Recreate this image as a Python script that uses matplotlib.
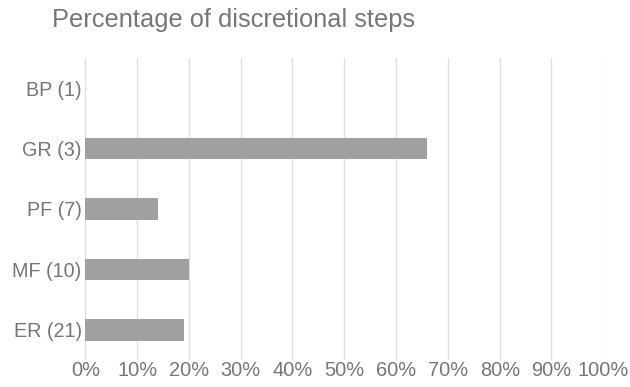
import matplotlib
matplotlib.use("Agg")
import matplotlib.pyplot as plt
from matplotlib.ticker import FuncFormatter, MultipleLocator

# Data
categories = ["BP (1)", "GR (3)", "PF (7)", "MF (10)", "ER (21)"]
discretional_pct = [0, 66, 14, 20, 19]
title = "Percentage of discretional steps"

text_color = "#767676"
bar_color = "#a0a09f"
grid_color = "#dedede"

plt.rcParams["font.family"] = ["Liberation Sans", "DejaVu Sans"]

fig = plt.figure(figsize=(6.3, 3.87), dpi=100)
ax = fig.add_axes([0.1354, 0.0698, 0.8222, 0.7804])

ypos = list(range(len(categories)))
ax.barh(ypos, discretional_pct, height=0.36, color=bar_color, zorder=3)

ax.set_xlim(0, 100)
ax.set_ylim(len(categories) - 0.5, -0.5)
ax.set_yticks(ypos)
ax.set_yticklabels(categories)
ax.xaxis.set_major_locator(MultipleLocator(10))
ax.xaxis.set_major_formatter(FuncFormatter(lambda v, _: f"{v:.0f}%"))

ax.grid(axis="x", color=grid_color, linewidth=1.0, zorder=0)
ax.set_axisbelow(True)
for s in ax.spines.values():
    s.set_visible(False)

ax.tick_params(axis="x", length=0, pad=1, labelsize=14.4, labelcolor=text_color)
ax.tick_params(axis="y", length=0, pad=2.6, labelsize=14.2, labelcolor=text_color)

fig.text(0.0825, 1 - 27 / 387, title, fontsize=18.3, color=text_color,
         ha="left", va="baseline")

fig.savefig("out.png", dpi=100)
